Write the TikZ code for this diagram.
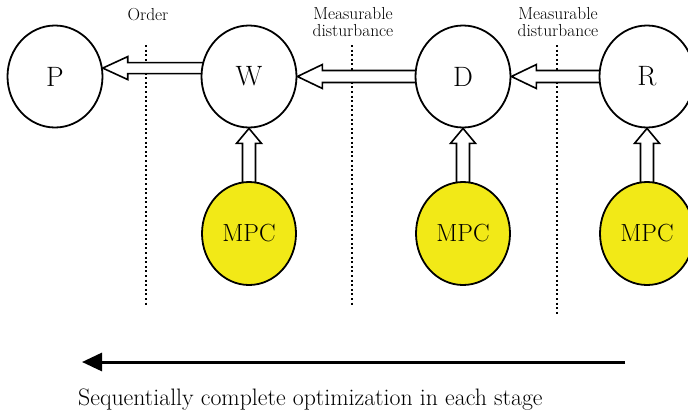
\documentclass[tikz,border=0pt]{standalone}
\usepackage{fontspec}
\usetikzlibrary{shapes.geometric,arrows.meta,calc}
\definecolor{mpcyellow}{RGB}{242,233,23}
\pgfdeclarelayer{background}
\pgfsetlayers{background,main}
\begin{document}
\begin{tikzpicture}[x=1pt,y=-1pt,
  stage/.style={ellipse,draw,line width=1.8pt,fill=white,minimum width=95pt,minimum height=102pt,inner sep=0pt,font=\fontsize{28}{32}\selectfont},
  mpc/.style={ellipse,draw,line width=1.8pt,fill=mpcyellow,minimum width=94pt,minimum height=103pt,inner sep=0pt,font=\fontsize{24.8}{28}\selectfont},
  hollow/.style={draw,line width=1.6pt,fill=white,line join=miter},
  dotline/.style={line width=2pt,dash pattern=on 2pt off 2.6pt},
  lbl/.style={font=\fontsize{17.4}{17}\selectfont,align=center,inner sep=0pt},
  flow/.style={line width=3pt,-{Triangle[length=20pt,width=18pt]}}
]
\useasboundingbox (0,0) rectangle (688,413);
% stages
\node[stage] (P) at (55,76.5) {P};
\node[stage] (W) at (249,76.5) {W};
\node[stage] (D) at (463,76.5) {D};
\node[stage] (R) at (647,76.5) {R};
\node[mpc] (M1) at (249,233.5) {MPC};
\node[mpc] (M2) at (463,233.5) {MPC};
\node[mpc] (M3) at (647,233.5) {MPC};
% dotted separators
\coordinate (d1t) at (146,45); \coordinate (d1b) at (146,305);
\coordinate (d2t) at (352,45); \coordinate (d2b) at (352,305);
\coordinate (d3t) at (557,45); \coordinate (d3b) at (557,314);
\begin{pgfonlayer}{background}
\draw[dotline] (d1t) -- (d1b);
\draw[dotline] (d2t) -- (d2b);
\draw[dotline] (d3t) -- (d3b);
% hollow arrows (behind the nodes)
\draw[hollow] let \p1=(P.10), \p2=(W.center) in
  (\p1) -- (\x1+25pt,\y1+11.5pt) -- (\x1+25pt,\y1+5.5pt) -- (\x2-30pt,\y1+5.5pt) -- (\x2-30pt,\y1-5.5pt) -- (\x1+25pt,\y1-5.5pt) -- (\x1+25pt,\y1-11.5pt) -- cycle;
\draw[hollow] let \p1=(W.east), \p2=(D.center) in
  (\p1) -- (\x1+25pt,\y1+12pt) -- (\x1+25pt,\y1+6pt) -- (\x2-30pt,\y1+6pt) -- (\x2-30pt,\y1-6pt) -- (\x1+25pt,\y1-6pt) -- (\x1+25pt,\y1-12pt) -- cycle;
\draw[hollow] let \p1=(D.east), \p2=(R.center) in
  (\p1) -- (\x1+25pt,\y1+12pt) -- (\x1+25pt,\y1+6pt) -- (\x2-30pt,\y1+6pt) -- (\x2-30pt,\y1-6pt) -- (\x1+25pt,\y1-6pt) -- (\x1+25pt,\y1-12pt) -- cycle;
\foreach \a/\b in {W/M1,D/M2,R/M3}{
  \draw[hollow] let \p1=(\a.south), \p2=(\b.north) in
    (\p1) -- (\x1-12.5pt,\y1-15pt) -- (\x1-6.5pt,\y1-15pt) -- (\x1-6.5pt,\y2-8pt) -- (\x1+6.5pt,\y2-8pt) -- (\x1+6.5pt,\y1-15pt) -- (\x1+12.5pt,\y1-15pt) -- cycle;
}
\end{pgfonlayer}
% labels
\node[lbl,anchor=base] (lo) at (148,20) {Order};
\node[lbl,anchor=north] (lm1) at (353,7.5) {Measurable\\disturbance};
\node[lbl,anchor=north] (lm2) at (558,7.5) {Measurable\\disturbance};
% optimization direction
\coordinate (fs) at (625,362);
\coordinate (fe) at (82,362);
\draw[flow] (fs) -- (fe);
\node[anchor=base west,inner sep=0pt,font=\fontsize{23.8}{27}\selectfont] (cap) at (78,405) {Sequentially complete optimization in each stage};
\end{tikzpicture}
\end{document}
